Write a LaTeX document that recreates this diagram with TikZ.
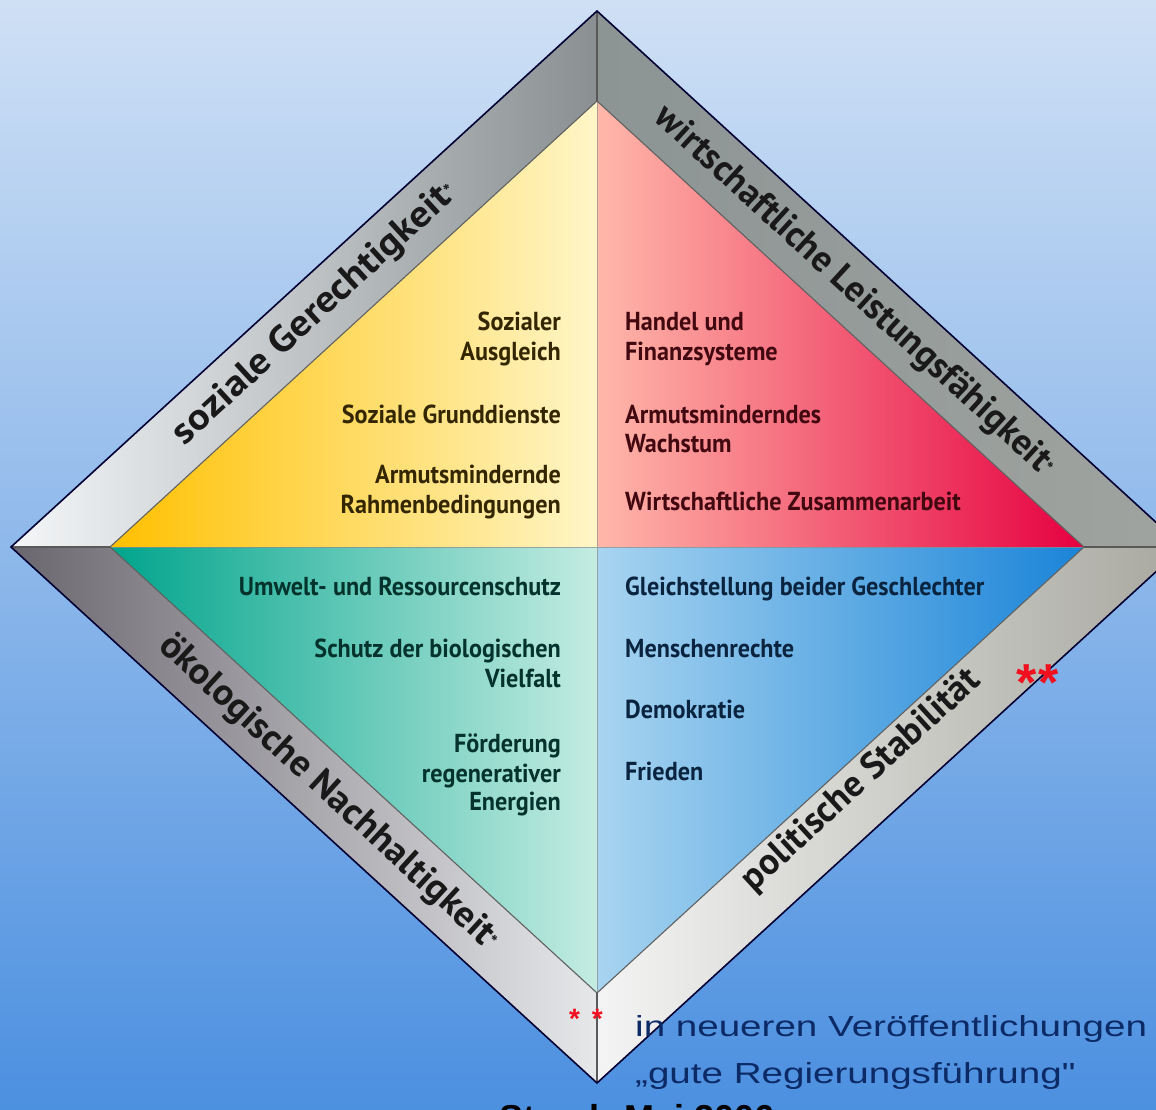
\documentclass[tikz,border=0pt]{standalone}
\usepackage{fontspec}
\usetikzlibrary{calc}
\newfontfamily\labfont[FakeStretch=0.93]{PT Sans}
\newfontfamily\framefont{PT Sans}
\newfontfamily\notefont{Liberation Sans}
\definecolor{bgtop}{HTML}{CFE0F5}
\definecolor{bgmid}{HTML}{A0C4F0}
\definecolor{bgbot}{HTML}{4C90E0}
\definecolor{ytxt}{HTML}{332600}
\definecolor{rtxt}{HTML}{420810}
\definecolor{gtxt}{HTML}{03332C}
\definecolor{btxt}{HTML}{0A2440}
\definecolor{notecol}{HTML}{0C2A66}
\definecolor{starred}{HTML}{F0101E}
\begin{document}
\begin{tikzpicture}[x=1pt,y=1pt,
  qlab/.style={font=\labfont\bfseries\fontsize{26}{30}\selectfont, inner sep=0pt},
  qr/.style={qlab, anchor=base east},
  ql/.style={qlab, anchor=base west},
  flab/.style={font=\framefont\bfseries\fontsize{37}{37}\selectfont, text=black!90, inner sep=0pt, anchor=center},
  note/.style={font=\notefont\fontsize{29}{29}\selectfont, text=notecol, inner sep=0pt, anchor=base west},
  stars/.style={font=\notefont\bfseries, text=starred, inner sep=0pt, anchor=base},
  outerline/.style={draw=black!80!blue, line width=1.6pt, line join=miter},
  innerline/.style={draw=black!62, line width=1.1pt},
  miterline/.style={draw=black!65, line width=1.2pt},
  divline/.style={draw=black!45, line width=0.9pt, opacity=0.7}]
\useasboundingbox (0,0) rectangle (1156,-1109);
\clip (0,0) rectangle (1156,-1109);
\shade[top color=bgtop, middle color=bgmid, bottom color=bgbot] (0,0) rectangle (1156,-1109);

\coordinate (C) at (597,-547);
\coordinate (OT) at (597,-11);
\coordinate (OL) at (11,-547);
\coordinate (OR) at (1183,-547);
\coordinate (OB) at (597,-1083);
\coordinate (IT) at (597,-101);
\coordinate (IL) at (110,-547);
\coordinate (IR) at (1084,-547);
\coordinate (IB) at (597,-993);

% quadrants
\shade[left color={rgb,255:red,255;green,192;blue,0}, middle color={rgb,255:red,255;green,212;blue,60}, right color={rgb,255:red,255;green,246;blue,200}] (IT) -- (IL) -- (C) -- cycle;
\shade[left color={rgb,255:red,255;green,184;blue,170}, middle color={rgb,255:red,255;green,80;blue,100}, right color={rgb,255:red,230;green,0;blue,64}] (IT) -- (C) -- (IR) -- cycle;
\shade[left color={rgb,255:red,0;green,164;blue,140}, middle color={rgb,255:red,40;green,184;blue,160}, right color={rgb,255:red,196;green,236;blue,226}] (IL) -- (C) -- (IB) -- cycle;
\shade[left color={rgb,255:red,168;green,212;blue,240}, middle color={rgb,255:red,46;green,150;blue,226}, right color={rgb,255:red,26;green,132;blue,216}] (C) -- (IR) -- (IB) -- cycle;

% frame bands
\shade[left color={rgb,255:red,244;green,246;blue,248}, middle color={rgb,255:red,200;green,204;blue,206}, right color={rgb,255:red,138;green,144;blue,146}] (OL) -- (OT) -- (IT) -- (IL) -- cycle;
\shade[left color={rgb,255:red,140;green,148;blue,148}, middle color={rgb,255:red,214;green,220;blue,220}, right color={rgb,255:red,160;green,164;blue,160}] (OT) -- (OR) -- (IR) -- (IT) -- cycle;
\shade[left color={rgb,255:red,106;green,102;blue,110}, middle color={rgb,255:red,170;green,170;blue,172}, right color={rgb,255:red,230;green,232;blue,234}] (OL) -- (IL) -- (IB) -- (OB) -- cycle;
\shade[left color={rgb,255:red,244;green,244;blue,244}, middle color={rgb,255:red,214;green,214;blue,210}, right color={rgb,255:red,168;green,168;blue,160}] (OB) -- (IB) -- (IR) -- (OR) -- cycle;

% lines
\draw[divline] (IL) -- (IR) (IT) -- (IB);
\draw[innerline] (IL) -- (IT) -- (IR) -- (IB) -- cycle;
\draw[miterline] (OL) -- (IL) (OT) -- (IT) (OR) -- (IR) (OB) -- (IB);
\draw[outerline] (OL) -- (OT) -- (OR) -- (OB) -- cycle;

% band midlines
\coordinate (mL) at ($(OL)!0.5!(IL)$);
\coordinate (mT) at ($(OT)!0.5!(IT)$);
\coordinate (mR) at ($(OR)!0.5!(IR)$);
\coordinate (mB) at ($(OB)!0.5!(IB)$);

\node[flab, rotate=42.5] (fsoz) at ($(mL)!0.475!(mT)$) {\scalebox{1.1}[1]{soziale Gerechtigkeit{\fontsize{18}{18}\selectfont\raisebox{0.4ex}{*}}}};
\node[flab, rotate=-42.5] (fwirt) at ($(mT)!0.48!(mR)$) {\scalebox{0.98}[1]{wirtschaftliche Leistungsfähigkeit{\fontsize{18}{18}\selectfont\raisebox{0.4ex}{*}}}};
\node[flab, rotate=-42.5] (foek) at ($(mL)!0.50!(mB)$) {\scalebox{1.03}[1]{ökologische Nachhaltigkeit{\fontsize{18}{18}\selectfont\raisebox{0.4ex}{*}}}};
\node[flab, rotate=42.5] (fpol) at ($($(mB)!0.50!(mR)$)+(-4,12)$) {politische Stabilität};
\node[stars, font=\notefont\bfseries\fontsize{52}{52}\selectfont] (st1) at (1038,-700) {*\hspace{2pt}*};

% yellow quadrant
\node[qr, text=ytxt] (y1) at (561,-330) {Sozialer};
\node[qr, text=ytxt] (y2) at (561,-360) {Ausgleich};
\node[qr, text=ytxt] (y3) at (561,-423) {Soziale Grunddienste};
\node[qr, text=ytxt] (y4) at (561,-483) {Armutsmindernde};
\node[qr, text=ytxt] (y5) at (561,-513) {Rahmenbedingungen};
% red quadrant
\node[ql, text=rtxt] (r1) at (625,-330) {Handel und};
\node[ql, text=rtxt] (r2) at (625,-360) {Finanzsysteme};
\node[ql, text=rtxt] (r3) at (625,-423) {Armutsminderndes};
\node[ql, text=rtxt] (r4) at (625,-452) {Wachstum};
\node[ql, text=rtxt] (r5) at (625,-510) {Wirtschaftliche Zusammenarbeit};
% green quadrant
\node[qr, text=gtxt] (g1) at (561,-595) {Umwelt- und Ressourcenschutz};
\node[qr, text=gtxt] (g2) at (561,-657) {Schutz der biologischen};
\node[qr, text=gtxt] (g3) at (561,-687) {Vielfalt};
\node[qr, text=gtxt] (g4) at (561,-752) {Förderung};
\node[qr, text=gtxt] (g5) at (561,-782) {regenerativer};
\node[qr, text=gtxt] (g6) at (561,-810) {Energien};
% blue quadrant
\node[ql, text=btxt] (b1) at (625,-595) {Gleichstellung beider Geschlechter};
\node[ql, text=btxt] (b2) at (625,-657) {Menschenrechte};
\node[ql, text=btxt] (b3) at (625,-718) {Demokratie};
\node[ql, text=btxt] (b4) at (625,-780) {Frieden};

% footnote
\node[stars, font=\notefont\bfseries\fontsize{28}{28}\selectfont] (st2) at (586,-1028) {*\hspace{12pt}*};
\node[note] (n1) at (635,-1036) {\scalebox{1.33}[1]{in neueren Veröffentlichungen}};
\node[note] (n2) at (635,-1083) {\scalebox{1.33}[1]{„gute Regierungsführung"}};
\node[font=\notefont\bfseries\fontsize{36}{36}\selectfont, text=black, inner sep=0pt, anchor=base west] (src) at (499,-1130) {Stand: Mai 2006};
\end{tikzpicture}
\end{document}
